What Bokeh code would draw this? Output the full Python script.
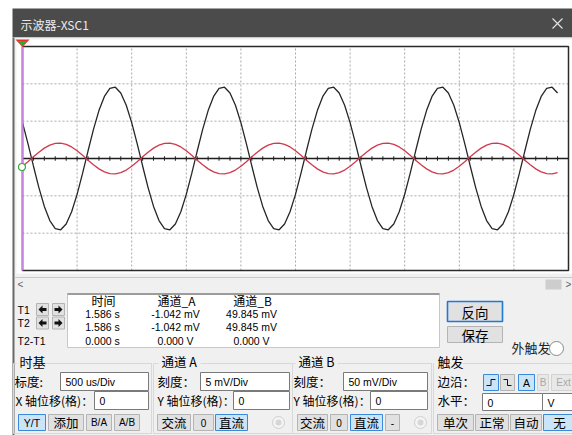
from bokeh.plotting import figure
from bokeh.models import Range1d
from bokeh.core.properties import value
from bokeh.embed import file_html
from bokeh.resources import INLINE

# ---------------- data ----------------
TIMEBASE_MS_PER_DIV = 0.5      # 500 us/Div
CH_A_MV_PER_DIV = 5.0          # 5 mV/Div
CH_B_MV_PER_DIV = 50.0         # 50 mV/Div
H_DIVS = 10
V_DIVS = 6
SAMPLE_START_MS = 0.0
SAMPLE_STEP_MS = 0.05

# channel B (black trace), mV
CH_B_MV = [
    48.0, 20.0, -10.0, -39.0, -64.2, -83.1, -93.9, -95.5, -87.7, -71.3,
    -48.0, -20.0, 10.0, 39.0, 64.2, 83.1, 93.9, 95.5, 87.7, 71.3,
    48.0, 20.0, -10.0, -39.0, -64.2, -83.1, -93.9, -95.5, -87.7, -71.3,
    -48.0, -20.0, 10.0, 39.0, 64.2, 83.1, 93.9, 95.5, 87.7, 71.3,
    48.0, 20.0, -10.0, -39.0, -64.2, -83.1, -93.9, -95.5, -87.7, -71.3,
    -48.0, -20.0, 10.0, 39.0, 64.2, 83.1, 93.9, 95.5, 87.7, 71.3,
    48.0, 20.0, -10.0, -39.0, -64.2, -83.1, -93.9, -95.5, -87.7, -71.3,
    -48.0, -20.0, 10.0, 39.0, 64.2, 83.1, 93.9, 95.5, 87.7, 71.3,
    48.0, 20.0, -10.0, -39.0, -64.2, -83.1, -93.9, -95.5, -87.7, -71.3,
    -48.0, -20.0, 10.0, 39.0, 64.2, 83.1, 93.9, 95.5, 87.7,
]
# channel A (red trace), mV
CH_A_MV = [
    -1.04, -0.43, 0.22, 0.85, 1.39, 1.80, 2.03, 2.07, 1.90, 1.55,
    1.04, 0.43, -0.22, -0.85, -1.39, -1.80, -2.03, -2.07, -1.90, -1.55,
    -1.04, -0.43, 0.22, 0.85, 1.39, 1.80, 2.03, 2.07, 1.90, 1.55,
    1.04, 0.43, -0.22, -0.85, -1.39, -1.80, -2.03, -2.07, -1.90, -1.55,
    -1.04, -0.43, 0.22, 0.85, 1.39, 1.80, 2.03, 2.07, 1.90, 1.55,
    1.04, 0.43, -0.22, -0.85, -1.39, -1.80, -2.03, -2.07, -1.90, -1.55,
    -1.04, -0.43, 0.22, 0.85, 1.39, 1.80, 2.03, 2.07, 1.90, 1.55,
    1.04, 0.43, -0.22, -0.85, -1.39, -1.80, -2.03, -2.07, -1.90, -1.55,
    -1.04, -0.43, 0.22, 0.85, 1.39, 1.80, 2.03, 2.07, 1.90, 1.55,
    1.04, 0.43, -0.22, -0.85, -1.39, -1.80, -2.03, -2.07, -1.90,
]

WINDOW_TITLE = "示波器-XSC1"
READOUT_COLUMNS = ["时间", "通道_A", "通道_B"]
READOUT_ROW_LABELS = ["T1", "T2", "T2-T1"]
READOUT_T1 = ["1.586 s", "-1.042 mV", "49.845 mV"]
READOUT_T2 = ["1.586 s", "-1.042 mV", "49.845 mV"]
READOUT_DT = ["0.000 s", "0.000 V", "0.000 V"]
TIMEBASE_TEXT = "500 us/Div"
CH_A_SCALE_TEXT = "5 mV/Div"
CH_B_SCALE_TEXT = "50 mV/Div"
X_POS_TEXT = "0"
Y_POS_A_TEXT = "0"
Y_POS_B_TEXT = "0"
TRIG_LEVEL_TEXT = "0"
TRIG_UNIT_TEXT = "V"

# ---------------- figure (picture pixel coordinates) ----------------
PX0, PY0 = 0, 0
W, H = 572, 435
CJK = "Noto Sans CJK SC"
LAT = "Liberation Sans"

p = figure(width=W, height=H, x_range=Range1d(PX0, PX0 + W), y_range=Range1d(PY0 + H, PY0),
           output_backend="svg", toolbar_location=None, x_axis_type=None, y_axis_type=None,
           min_border=0, outline_line_color=None,
           background_fill_color="white", border_fill_color="white")

# scope screen geometry (px) and data ranges mapped onto it
SCR_L, SCR_R, SCR_T, SCR_B = 22, 568, 46, 270
px_per_ms = (SCR_R - SCR_L) / (H_DIVS * TIMEBASE_MS_PER_DIV)
p.extra_x_ranges = {"t": Range1d((PX0 - SCR_L) / px_per_ms, (PX0 + W - SCR_L) / px_per_ms)}
yc = (SCR_T + SCR_B) / 2
px_per_div = (SCR_B - SCR_T) / V_DIVS


def vrange(mv_per_div):
    k = mv_per_div / px_per_div
    return Range1d(-(PY0 + H - yc) * k, (yc - PY0) * k)


p.extra_y_ranges = {"a": vrange(CH_A_MV_PER_DIV), "b": vrange(CH_B_MV_PER_DIV)}


def rect(x0, x1, y0, y1, fill="#e1e1e1", line=None, lw=1.0):
    p.quad(left=[x0], right=[x1], top=[y0], bottom=[y1], fill_color=fill,
           line_color=line, line_width=lw)


def hline(x0, x1, y, color, lw=1.0):
    p.segment(x0=[x0], x1=[x1], y0=[y], y1=[y], line_color=color, line_width=lw)


def vline(x, y0, y1, color, lw=1.0):
    p.segment(x0=[x], x1=[x], y0=[y0], y1=[y1], line_color=color, line_width=lw)


def label(x, y, s, size=12.5, color="#000000", align="left", font=CJK):
    p.text(x=[x], y=[y], text=[s], text_font=value(font), text_font_size=value(f"{size}px"),
           text_color=color, text_align=align, text_baseline="middle")


def button(x0, x1, y0, y1, s, state="normal", font=CJK, size=12.5):
    if state == "on":
        fill, line, col = "#cce4f7", "#3b8ad9", "#000000"
    elif state == "off":
        fill, line, col = "#e8e8e8", "#d2d2d2", "#a8a8a8"
    else:
        fill, line, col = "#e1e1e1", "#b4b4b4", "#000000"
    rect(x0, x1, y0, y1, fill, line, 1)
    if s:
        label((x0 + x1) / 2, (y0 + y1) / 2, s, size=size, color=col, align="center", font=font)


def textbox(x0, x1, y0, y1, s):
    rect(x0, x1, y0, y1, "white", "#7a7a7a", 1)
    label(x0 + 5, (y0 + y1) / 2 + 0.5, s, size=10.5, font=LAT)


def groupbox(x0, x1, y0, y1, lab_x0, lab_x1):
    c = "#d8d8d8"
    hline(x0, lab_x0 - 2, y0, c)
    hline(lab_x1 + 2, x1, y0, c)
    vline(x0, y0, y1, c)
    vline(x1, y0, y1, c)
    hline(x0, x1, y1, c)


# ---------------- window chrome ----------------
rect(12, 572, 8, 37, "#4b4b4b")
label(20, 23.5, WINDOW_TITLE, size=12, color="#ececec")
p.segment(x0=[552, 552], x1=[562, 562], y0=[18, 28], y1=[28, 18], line_color="#e6e6e6", line_width=1.1)
rect(12, 572, 37, 440, "#f0f0f0")
vline(13, 37, 440, "#6a6a6a", 2)

# screen area
rect(16, 572, 39, 273, "white")
hline(14, 572, 277, "#c9c9c9")

xs = [k * TIMEBASE_MS_PER_DIV for k in range(1, H_DIVS)]
half_v = V_DIVS / 2 * CH_B_MV_PER_DIV
t_end = H_DIVS * TIMEBASE_MS_PER_DIV
p.segment(x0=xs, x1=xs, y0=[-half_v] * len(xs), y1=[half_v] * len(xs),
          x_range_name="t", y_range_name="b", line_color="#a9a9a9", line_width=1, line_dash="2 2")
ys = [k * CH_B_MV_PER_DIV for k in range(-int(V_DIVS / 2) + 1, int(V_DIVS / 2)) if k != 0]
p.segment(x0=[0] * len(ys), x1=[t_end] * len(ys), y0=ys, y1=ys,
          x_range_name="t", y_range_name="b", line_color="#a9a9a9", line_width=1, line_dash="2 2")
p.segment(x0=[0], x1=[t_end], y0=[0], y1=[0], x_range_name="t", y_range_name="b",
          line_color="#1e1e1e", line_width=1.3)
tx = [j * TIMEBASE_MS_PER_DIV / 5 for j in range(1, H_DIVS * 5)]
tk = 0.06 * CH_B_MV_PER_DIV
p.segment(x0=tx, x1=tx, y0=[-tk] * len(tx), y1=[tk] * len(tx), x_range_name="t", y_range_name="b",
          line_color="#1e1e1e", line_width=1)

t = [SAMPLE_START_MS + i * SAMPLE_STEP_MS for i in range(len(CH_B_MV))]
p.line(t, CH_B_MV, x_range_name="t", y_range_name="b", line_color="#262626", line_width=1.3)
p.line(t, CH_A_MV, x_range_name="t", y_range_name="a", line_color="#d03a4c", line_width=1.3)

rect(SCR_L, SCR_R, SCR_T, SCR_B, None, "#2a2a2a", 1.5)
vline(SCR_L, SCR_T, SCR_B, "#c884e0", 2)
p.patches(xs=[[15, 29, 22], [17, 27, 22]], ys=[[39, 39, 46.5], [40.5, 40.5, 45.5]],
          fill_color=["#e03030", "#2ea82e"], line_color=None)
p.scatter(x=[21.5], y=[166.5], size=7, marker="circle", fill_color="white",
          line_color="#3aa83a", line_width=1.2)

# scrollbar row
label(20, 284, "<", size=10, color="#606060", font=LAT, align="center")
label(568, 284, ">", size=10, color="#606060", font=LAT, align="center")
rect(545, 561, 279, 289, "#cdcdcd")

# ---------------- readout panel ----------------
rect(67, 439, 293, 347, "white", "#c8c8c8", 1)
hline(67, 439, 293.5, "#9c9c9c", 2)
rows_y = [309, 322.5, 340.5]
for lab, yy in zip(READOUT_ROW_LABELS, rows_y):
    label(17, yy, lab, size=10.5, font=LAT)


def arrow(cx, cy, direction):
    d = -1 if direction == "left" else 1
    px = [cx + 4 * d, cx, cx, cx - 4 * d, cx - 4 * d, cx, cx]
    py = [cy, cy - 4, cy - 1.4, cy - 1.4, cy + 1.4, cy + 1.4, cy + 4]
    p.patch(px, py, fill_color="#111111", line_color=None)


for yy in rows_y[:2]:
    button(36, 48, yy - 6, yy + 6, "")
    button(52, 64, yy - 6, yy + 6, "")
    arrow(42, yy, "left")
    arrow(58, yy, "right")

col_x = [103, 176, 252]
for x, s in zip(col_x, READOUT_COLUMNS):
    label(x, 300, s, size=12, align="center")
for row, yy in zip([READOUT_T1, READOUT_T2, READOUT_DT], [313.5, 326.5, 340]):
    for x, s in zip(col_x, row):
        label(x - 1, yy, s, size=10.5, align="center", font=LAT)

button(447, 502, 301, 321, "反向", size=13.5)
p.quad(left=[447], right=[502], top=[301], bottom=[321], fill_color=None, line_color="#1f7ad6", line_width=1.6)
button(447, 502, 326, 342, "保存", size=13.5)
label(511, 347, "外触发", size=13, color="#222222")
p.scatter(x=[556], y=[348], size=14, marker="circle", fill_color="white", line_color="#8a8a8a", line_width=1)

# ---------------- control groups ----------------
groupbox(13, 151, 363, 433, 18, 41)
groupbox(153, 292, 363, 433, 160, 198)
groupbox(292, 431, 363, 433, 297, 335)
groupbox(433, 575, 363, 433, 436, 460)

# 时基
label(19, 361, "时基", size=13)
label(14, 381, "标度:", size=12.5)
textbox(60, 148, 372, 390, TIMEBASE_TEXT)
label(15, 400, "X 轴位移(格)：", size=12)
textbox(94, 148, 391, 409, X_POS_TEXT)
button(18, 45, 414, 430, "Y/T", "on", LAT, 10.5)
button(48, 83, 414, 430, "添加")
button(86, 111, 414, 430, "B/A", font=LAT, size=10)
button(114, 139, 414, 430, "A/B", font=LAT, size=10)

# 通道 A
label(161, 361, "通道 A", size=12.5)
label(157, 381, "刻度：", size=12.5)
textbox(200, 289, 372, 390, CH_A_SCALE_TEXT)
label(157, 400, "Y 轴位移(格)：", size=12)
textbox(233, 289, 391, 409, Y_POS_A_TEXT)
button(157, 190, 414, 430, "交流")
button(193, 213, 414, 430, "0", font=LAT, size=10)
button(215, 247, 414, 430, "直流", "on")
p.scatter(x=[278], y=[422], size=12, marker="circle", fill_color="#f4f4f4", line_color="#cfcfcf", line_width=1)
p.scatter(x=[278], y=[422], size=6, marker="circle", fill_color="#d6d6d6", line_color=None)

# 通道 B
label(298, 361, "通道 B", size=12.5)
label(293, 381, "刻度：", size=12.5)
textbox(343, 427, 372, 390, CH_B_SCALE_TEXT)
label(293, 400, "Y 轴位移(格)：", size=12)
textbox(370, 427, 391, 409, Y_POS_B_TEXT)
button(297, 327, 414, 430, "交流")
button(330, 347, 414, 430, "0", font=LAT, size=10)
button(350, 382, 414, 430, "直流", "on")
button(385, 399, 414, 430, "-", font=LAT, size=10)
p.scatter(x=[420], y=[422], size=12, marker="circle", fill_color="#f4f4f4", line_color="#cfcfcf", line_width=1)
p.scatter(x=[420], y=[422], size=6, marker="circle", fill_color="#d6d6d6", line_color=None)

# 触发
label(437, 361, "触发", size=13)
label(437, 381, "边沿：", size=12.5)
button(483, 498, 374, 390, "", "on")
p.line([486, 490.5, 490.5, 495], [385, 385, 379, 379], line_color="#111111", line_width=1)
button(500, 514, 374, 390, "")
p.line([503, 507, 507, 511], [379, 379, 385, 385], line_color="#111111", line_width=1)
button(518, 534, 374, 390, "A", "on", LAT, 10.5)
button(537, 548, 374, 390, "B", "off", LAT, 10)
button(551, 575, 374, 390, "Ext", "off", LAT, 10)
label(437, 400, "水平：", size=12.5)
textbox(482, 542, 393, 410, TRIG_LEVEL_TEXT)
textbox(542, 575, 393, 410, TRIG_UNIT_TEXT)
button(437, 473, 414, 430, "单次")
button(475, 508, 414, 430, "正常")
button(510, 541, 414, 430, "自动")
button(543, 575, 414, 430, "无", "on")

open("out.html", "w").write(file_html(p, INLINE))
